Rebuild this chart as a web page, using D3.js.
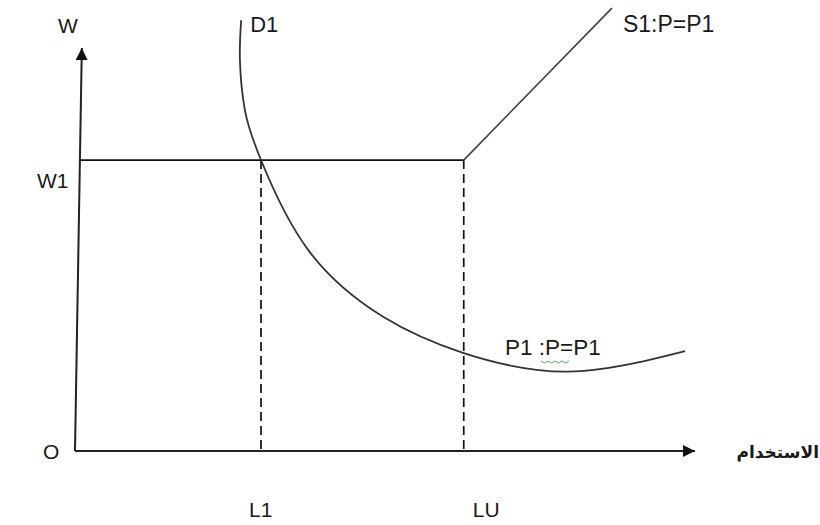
<!DOCTYPE html>
<html>
<head>
<meta charset="utf-8">
<script src="https://cdn.jsdelivr.net/npm/d3@7"></script>
<style>
  body { margin: 0; background: #fff; }
  text { font-family: "Liberation Sans", Arial, sans-serif; fill: #1a1a1a; }
</style>
</head>
<body>
<div id="main"></div>
<script>
// values in chart units (labour on x, wage on y, origin O = 0,0)
var demandX = [26.8, 26.6, 27.4, 30.0, 37.6, 49.7, 62.7, 79.5, 98.4]
var demandY = [106.9, 97.0, 84.6, 72.2, 49.9, 33.3, 24.3, 19.7, 24.8]
var supplyX = [62.7, 86.6]
var supplyY = [72.2, 109.9]
var wageW1 = 72.2
var labourTicks = [30.0, 62.7]
var labourLabels = ["L1", "LU"]
var yAxisTopX = 1.1

var W = 820, H = 525
var svg = d3.select("#main").append("svg").attr("width", W).attr("height", H)

var x = d3.scaleLinear().domain([0, 100]).range([75, 695])
var y = d3.scaleLinear().domain([0, 100]).range([451, 48])

var defs = svg.append("defs")
defs.append("marker").attr("id", "arrow")
  .attr("viewBox", "0 0 12 12").attr("refX", 12).attr("refY", 6)
  .attr("markerWidth", 12).attr("markerHeight", 12)
  .attr("markerUnits", "userSpaceOnUse").attr("orient", "auto")
  .append("path").attr("d", "M0,0 L12,6 L0,12 Z").attr("fill", "#111")

// axes
svg.append("line")
  .attr("x1", x(0)).attr("y1", y(0)).attr("x2", x(yAxisTopX)).attr("y2", y(100))
  .attr("stroke", "#222").attr("stroke-width", 2).attr("marker-end", "url(#arrow)")
svg.append("line")
  .attr("x1", x(0)).attr("y1", y(0)).attr("x2", x(100)).attr("y2", y(0))
  .attr("stroke", "#222").attr("stroke-width", 2).attr("marker-end", "url(#arrow)")

// W1 horizontal wage line up to LU
svg.append("line")
  .attr("x1", x(yAxisTopX * wageW1 / 100)).attr("y1", y(wageW1))
  .attr("x2", x(labourTicks[1])).attr("y2", y(wageW1))
  .attr("stroke", "#111").attr("stroke-width", 1.7)

// dashed verticals at L1 and LU
svg.selectAll(".drop")
  .data(labourTicks)
  .enter()
  .append("line")
  .attr("class", "drop")
  .attr("x1", d => x(d)).attr("x2", d => x(d))
  .attr("y1", y(wageW1)).attr("y2", y(0))
  .attr("stroke", "#111").attr("stroke-width", 1.7)
  .attr("stroke-dasharray", "9,5")

// supply line S1
svg.append("line")
  .attr("x1", x(supplyX[0])).attr("y1", y(supplyY[0]))
  .attr("x2", x(supplyX[1])).attr("y2", y(supplyY[1]))
  .attr("stroke", "#444").attr("stroke-width", 1.7)

// demand curve D1
var demand = demandX.map((d, i) => [d, demandY[i]])
var line = d3.line().x(d => x(d[0])).y(d => y(d[1])).curve(d3.curveNatural)
svg.append("path").attr("d", line(demand))
  .attr("fill", "none").attr("stroke", "#333").attr("stroke-width", 1.8)

// labels
var fs = "21px"
svg.append("text").attr("x", 58).attr("y", 33).style("font-size", fs).text("W")
svg.append("text").attr("x", x(demandX[0]) + 9).attr("y", 32).style("font-size", "22px").text("D1")
svg.append("text").attr("x", x(supplyX[1]) + 11).attr("y", 32).style("font-size", "23px").text("S1:P=P1")
svg.append("text").attr("x", 37).attr("y", y(wageW1) + 28).style("font-size", fs).text("W1")
svg.append("text").attr("x", 43).attr("y", y(0) + 8).style("font-size", fs).text("O")

svg.selectAll(".tick-label")
  .data(labourTicks)
  .enter()
  .append("text")
  .attr("class", "tick-label")
  .attr("x", (d, i) => x(d) + (i === 0 ? -12 : 9))
  .attr("y", y(0) + 66)
  .style("font-size", fs)
  .text((d, i) => labourLabels[i])

var pLabel = svg.append("text").attr("x", 505).attr("y", 355).style("font-size", "22.5px")
pLabel.append("tspan").text("P1 :")
var pSpan = pLabel.append("tspan").text("P")
pLabel.append("tspan").text("=P1")

// spell-check squiggle under ":P"
var bb = pSpan.node().getBBox()
var sq = []
for (var i = 0; i <= 8; i++) sq.push([bb.x - 4 + i * 3.5, bb.y + bb.height + 1 + (i % 2 ? 2 : 0)])
svg.append("path").attr("d", d3.line()(sq)).attr("fill", "none")
  .attr("stroke", "#4caf50").attr("stroke-width", 1)

svg.append("text")
  .attr("x", 819).attr("y", y(0) + 7)
  .attr("text-anchor", "start")
  .attr("direction", "rtl")
  .style("font-family", "'DejaVu Sans', sans-serif")
  .style("font-weight", "bold")
  .style("font-size", "17px")
  .text("الاستخدام")
</script>
</body>
</html>
